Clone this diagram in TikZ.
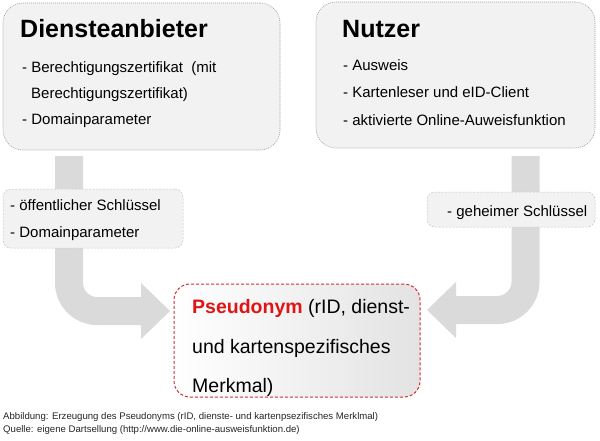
\documentclass[tikz,border=0pt]{standalone}
\usepackage{fontspec}
\setmainfont{Liberation Sans}
\usetikzlibrary{arrows.meta}

\definecolor{kasten}{HTML}{F2F2F2}
\definecolor{rahmen}{HTML}{A0A0A0}
\definecolor{schildrand}{HTML}{C4C4C4}
\definecolor{pfeilgrau}{HTML}{DADADA}
\definecolor{rot}{HTML}{E01414}
\definecolor{rotrand}{HTML}{D03030}

\begin{document}
\begin{tikzpicture}[x=1pt,y=-1pt,
    box/.style={draw=rahmen, dash pattern=on 1pt off 1pt, line width=.6pt, fill=kasten,
                rounded corners=20pt, inner sep=0pt},
    schild/.style={draw=schildrand, dash pattern=on 2pt off 1.5pt, line width=.5pt, fill=kasten,
                rounded corners=8pt, inner sep=0pt},
    merkmal/.style={draw=rotrand, dash pattern=on 3pt off 2pt, line width=1pt,
                left color=white, right color=black!11, rounded corners=16pt, inner sep=0pt},
    titel/.style={anchor=base west, inner sep=0pt, font=\fontsize{25}{30}\selectfont\bfseries},
    zeile/.style={anchor=base west, inner sep=0pt, font=\fontsize{15}{18}\selectfont},
    gross/.style={anchor=base west, inner sep=0pt, font=\fontsize{19.5}{24}\selectfont},
    quelle/.style={anchor=base west, inner sep=0pt, text=black!85, font=\fontsize{9.6}{11}\selectfont},
    pfeil/.style={draw=pfeilgrau, line width=28pt, rounded corners=28pt,
                -{Triangle[length=29pt, width=56pt, line width=0pt]}}]

  \fill[white] (0,0) rectangle (600,440);
  \useasboundingbox (0,0) rectangle (600,440);

  % Kaesten oben
  \node[box, minimum width=277pt, minimum height=147pt] (dienst) at (141.5,76.5) {};
  \node[box, minimum width=279pt, minimum height=146pt] (nutzer) at (455.5,75) {};

  \node[titel] (dtitel) at (20,37) {Diensteanbieter};
  \node[zeile] (d1) at (22,72) {- Berechtigungszertifikat \ (mit};
  \node[zeile] (d2) at (31,98) {Berechtigungszertifikat)};
  \node[zeile] (d3) at (22,124) {- Domainparameter};

  \node[titel] (ntitel) at (342,37) {Nutzer};
  \node[zeile] (n1) at (343,70) {- Ausweis};
  \node[zeile] (n2) at (343,97) {- Kartenleser und eID-Client};
  \node[zeile] (n3) at (343,125) {- aktivierte Online-Auweisfunktion};

  % Ergebnis
  \node[merkmal, minimum width=246pt, minimum height=113pt] (pseudo) at (297,340.5) {};
  \node[gross] (p1) at (192,313) {\textcolor{rot}{\bfseries Pseudonym} (rID, dienst-};
  \node[gross] (p2) at (192,353) {und kartenspezifisches};
  \node[gross] (p3) at (192,392) {Merkmal)};

  % Pfeile
  \coordinate (lstart) at (69,156);
  \coordinate (lende) at (170,311);
  \coordinate (rstart) at (525.5,156);
  \coordinate (rende) at (427,310);
  \draw[pfeil] (lstart) |- (lende);
  \draw[pfeil] (rstart) |- (rende);

  % Schilder auf den Pfeilen
  \node[schild, minimum width=180pt, minimum height=59pt] (oeff) at (93,218.5) {};
  \node[zeile] (o1) at (10,210) {- öffentlicher Schlüssel};
  \node[zeile] (o2) at (10,237) {- Domainparameter};

  \node[schild, minimum width=168pt, minimum height=35pt] (geheim) at (511,209.5) {};
  \node[zeile] (g1) at (447,216) {- geheimer Schlüssel};

  % Bildunterschrift
  \node[quelle] (abb) at (3,419) {Abbildung: Erzeugung des Pseudonyms (rID, dienste- und kartenpsezifisches Merklmal)};
  \node[quelle] (quelle) at (3,432) {Quelle: eigene Dartsellung (http://www.die-online-ausweisfunktion.de)};
\end{tikzpicture}
\end{document}
